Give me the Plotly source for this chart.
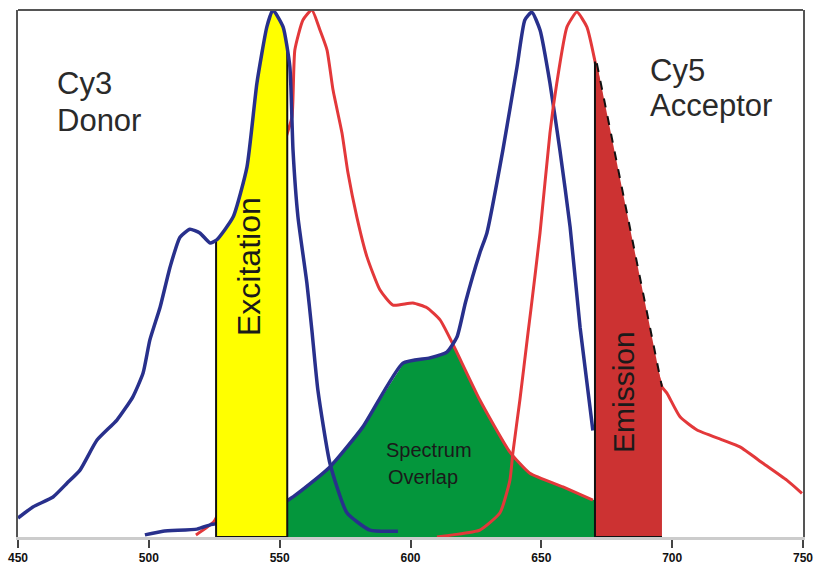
import numpy as np
import plotly.graph_objects as go

# ---- data (wavelength nm, normalized intensity) ----
cy3_abs_nm = [450.0, 455.7, 463.4, 468.7, 473.7, 480.2, 487.8, 493.9, 497.8, 500.4, 504.3, 508.1,
              511.9, 515.7, 519.5, 523.4, 526.0, 532.2, 537.5, 541.3, 545.1, 547.4, 551.3, 553.9,
              555.1, 557.0, 560.4, 562.3, 564.6, 569.2, 575.7, 584.5, 595.2]
cy3_abs_val = [0.036, 0.057, 0.076, 0.102, 0.127, 0.184, 0.222, 0.266, 0.311, 0.374, 0.436, 0.512,
               0.569, 0.584, 0.577, 0.558, 0.564, 0.607, 0.702, 0.861, 0.968, 1.0, 0.968, 0.892,
               0.734, 0.607, 0.482, 0.393, 0.279, 0.140, 0.046, 0.013, 0.011]

cy3_em_nm = [518.0, 525.0, 532.0, 540.0, 547.0, 552.0, 554.7, 555.8, 558.9, 562.3, 565.4, 568.1,
             570.4, 573.8, 576.1, 579.5, 583.4, 588.3, 593.3, 600.9, 606.3, 611.3, 615.8, 626.5,
             638.0, 645.6, 658.3, 669.7]
cy3_em_val = [0.004, 0.03, 0.12, 0.33, 0.58, 0.75, 0.797, 0.924, 0.981, 1.0, 0.962, 0.924,
              0.848, 0.767, 0.691, 0.607, 0.531, 0.469, 0.440, 0.444, 0.435, 0.412, 0.370, 0.260,
              0.161, 0.121, 0.095, 0.070]

cy5_abs_nm = [498.5, 505.4, 518.4, 523.4, 525.3, 540.0, 553.2, 569.2, 581.8, 597.1, 607.4, 613.9,
              617.8, 621.0, 626.5, 629.2, 635.3, 640.7, 643.7, 646.4, 649.5, 653.3, 657.1, 661.0,
              664.8, 669.7]
cy5_abs_val = [0.004, 0.011, 0.015, 0.023, 0.025, 0.045, 0.070, 0.133, 0.209, 0.330, 0.340, 0.351,
               0.380, 0.445, 0.539, 0.577, 0.734, 0.892, 0.981, 0.996, 0.962, 0.861, 0.734, 0.588,
               0.398, 0.202]

cy5_em_nm = [610.1, 616.2, 626.5, 634.2, 638.0, 639.1, 641.8, 644.9, 646.0, 649.5, 653.3, 655.9,
             659.8, 663.6, 667.4, 670.4, 679.9, 689.6, 696.1, 698.0, 703.0, 709.5, 719.4, 725.9,
             734.7, 743.8, 749.6]
cy5_em_val = [0.0, 0.004, 0.013, 0.046, 0.108, 0.159, 0.260, 0.387, 0.431, 0.577, 0.767, 0.861,
              0.968, 0.996, 0.968, 0.905, 0.639, 0.398, 0.285, 0.273, 0.228, 0.203, 0.184, 0.171,
              0.140, 0.108, 0.083]

excitation_band = [525.7, 552.9]
emission_band = [670.5, 696.1]
emission_edge_nm = [671.2, 696.1]
emission_edge_val = [0.899, 0.285]

tick_vals = [450, 500, 550, 600, 650, 700, 750]
tick_text = ["450", "500", "550", "600", "650", "700", "750"]

BLUE = "#28308c"
RED = "#e3383a"
GREEN = "#04963c"
YELLOW = "#ffff00"
BOXRED = "#cc3232"

fig = go.Figure()

# spectral overlap (green)
ov_x = np.linspace(excitation_band[1], emission_band[0], 400)
ov_y = np.minimum(np.interp(ov_x, cy3_em_nm, cy3_em_val), np.interp(ov_x, cy5_abs_nm, cy5_abs_val))
fig.add_trace(go.Scatter(x=np.concatenate([[ov_x[0]], ov_x, [ov_x[-1]]]),
                         y=np.concatenate([[0], ov_y, [0]]),
                         fill="toself", fillcolor=GREEN, line=dict(width=0), mode="lines",
                         hoverinfo="skip", showlegend=False))

SM = dict(shape="spline", smoothing=0.5)

# curves under filters
fig.add_trace(go.Scatter(x=cy3_em_nm, y=cy3_em_val, mode="lines", line=dict(color=RED, width=3, **SM),
                         showlegend=False))
fig.add_trace(go.Scatter(x=cy5_abs_nm, y=cy5_abs_val, mode="lines", line=dict(color=BLUE, width=3.5, **SM),
                         showlegend=False))
fig.add_trace(go.Scatter(x=cy5_em_nm, y=cy5_em_val, mode="lines", line=dict(color=RED, width=3, **SM),
                         showlegend=False))

# emission filter box
em_top0 = float(np.interp(emission_band[0], cy5_em_nm, cy5_em_val))
fig.add_trace(go.Scatter(x=[emission_band[0], emission_band[0]] + emission_edge_nm + [emission_band[1]],
                         y=[0, em_top0] + emission_edge_val + [0],
                         fill="toself", fillcolor=BOXRED, line=dict(width=0), mode="lines",
                         hoverinfo="skip", showlegend=False))

# excitation filter box
ex_x = np.linspace(excitation_band[0], excitation_band[1], 200)
ex_y = np.interp(ex_x, cy3_abs_nm, cy3_abs_val)
fig.add_trace(go.Scatter(x=np.concatenate([[ex_x[0]], ex_x, [ex_x[-1]]]),
                         y=np.concatenate([[0], ex_y, [0]]),
                         fill="toself", fillcolor=YELLOW, line=dict(width=0), mode="lines",
                         hoverinfo="skip", showlegend=False))
fig.add_trace(go.Scatter(x=[ex_x[0], ex_x[0], ex_x[-1], ex_x[-1]],
                         y=[ex_y[0], 0, 0, ex_y[-1]],
                         mode="lines", line=dict(color="#111111", width=2), showlegend=False))

# emission box outline and dashed filter edge
fig.add_trace(go.Scatter(x=[emission_band[0], emission_band[0], emission_band[1]],
                         y=[em_top0, 0, 0],
                         mode="lines", line=dict(color="#111111", width=2), showlegend=False))
fig.add_trace(go.Scatter(x=emission_edge_nm, y=emission_edge_val, mode="lines",
                         line=dict(color="#111111", width=2, dash="dash"), showlegend=False))

# Cy3 absorption on top
fig.add_trace(go.Scatter(x=cy3_abs_nm, y=cy3_abs_val, mode="lines", line=dict(color=BLUE, width=3.5, **SM),
                         showlegend=False))

L, R, T, B = 18, 12, 10, 31
W, H = 815, 568
pw, ph = W - L - R, H - T - B


def px(xp):
    return (xp - L) / pw


def py(yp):
    return (H - B - yp) / ph


txt_font = dict(family="Arial", size=31, color="#2a2a2a")
ann = []
ann.append(dict(text="Cy3", x=px(55), y=py(84), xanchor="left", yanchor="middle", font=txt_font))
ann.append(dict(text="Donor", x=px(55), y=py(121), xanchor="left", yanchor="middle", font=txt_font))
ann.append(dict(text="Cy5", x=px(648), y=py(71), xanchor="left", yanchor="middle", font=txt_font))
ann.append(dict(text="Acceptor", x=px(648), y=py(105), xanchor="left", yanchor="middle", font=txt_font))
ann.append(dict(text="Excitation", x=px(249), y=py(267), xanchor="center", yanchor="middle",
                textangle=-90, font=dict(family="Arial", size=32, color="#1a1a1a")))
ann.append(dict(text="Emission", x=px(623), y=py(392), xanchor="center", yanchor="middle",
                textangle=-90, font=dict(family="Arial", size=30, color="#1a1a1a")))
ann.append(dict(text="Spectrum", x=px(384), y=py(450), xanchor="left", yanchor="middle",
                font=dict(family="Arial", size=20, color="#1a1a1a")))
ann.append(dict(text="Overlap", x=px(386), y=py(477), xanchor="left", yanchor="middle",
                font=dict(family="Arial", size=20, color="#1a1a1a")))
for a in ann:
    a.update(xref="paper", yref="paper", showarrow=False)

fig.update_layout(
    width=W, height=H,
    margin=dict(l=L, r=R, t=T, b=B, autoexpand=False),
    paper_bgcolor="white", plot_bgcolor="white",
    showlegend=False,
    hovermode=False,
    annotations=ann,
    shapes=[dict(type="line", xref="paper", yref="paper", x0=0, x1=1, y0=1, y1=1,
                 line=dict(color="#555555", width=2))],
    xaxis=dict(range=[450, 750], tickvals=tick_vals, ticktext=tick_text, ticks="outside",
               ticklen=8, tickwidth=2, tickcolor="#444444", showline=True, linecolor="#cccccc",
               linewidth=3, showgrid=False, zeroline=False, automargin=False,
               tickfont=dict(family="Arial", size=12, color="#111111", weight="bold")),
    yaxis=dict(range=[0, 1.0], showline=True, mirror=True, linecolor="#555555", linewidth=2,
               showticklabels=False, ticks="", showgrid=False, zeroline=False, automargin=False),
)

fig.write_html("out.html", config={"displayModeBar": False, "staticPlot": True},
               post_script="document.body.style.margin='0px';document.body.style.overflow='hidden';")
